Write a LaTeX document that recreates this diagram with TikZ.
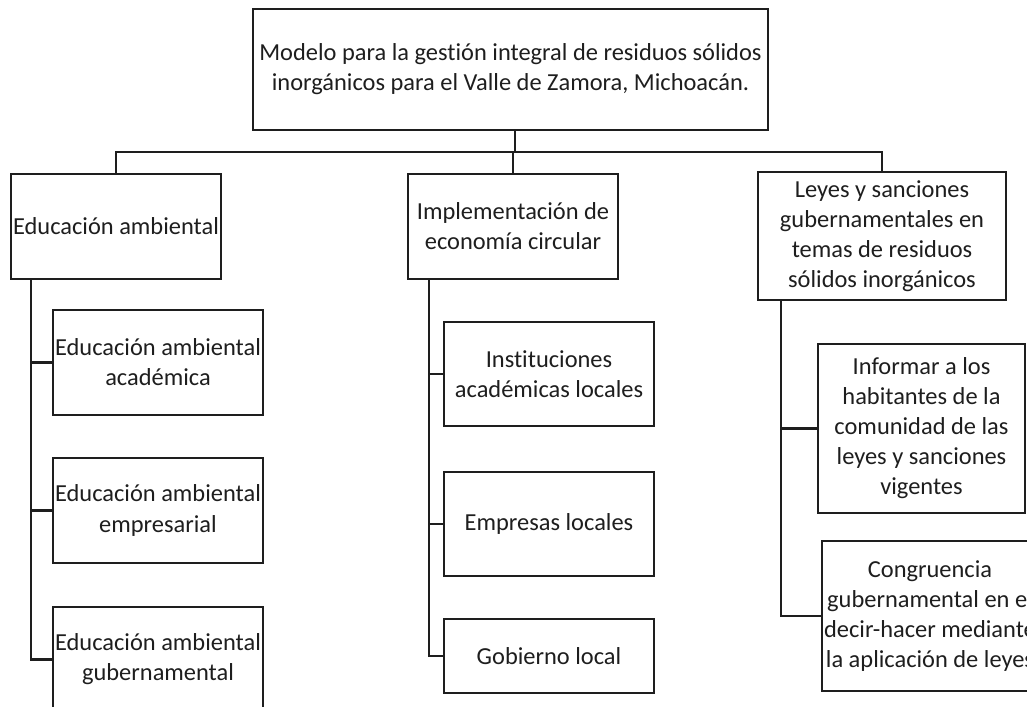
\documentclass[tikz,border=0pt]{standalone}
\usepackage{fontspec}
\setmainfont{Carlito}[Ligatures=NoCommon]
\definecolor{InkGray}{RGB}{30,30,30}

\begin{document}
\begin{tikzpicture}[x=0.2mm,y=-0.2mm,
        box/.style={draw=InkGray,line width=1.2pt,minimum width=42mm,minimum height=21mm,
                    inner sep=0pt,align=center,text=InkGray,
                    font=\fontsize{13.9}{17.1}\selectfont},
        link/.style={draw=InkGray,line width=1.2pt}]
        \clip (0,0) rectangle (1027,707);
        \fill[white] (0,0) rectangle (1027,707);

        % Main model
        \node[box,minimum width=103mm,minimum height=24.2mm] (model) at (510.5,69.5)
             {Modelo para la gestión integral de residuos sólidos\\inorgánicos para el Valle de Zamora, Michoacán.};

        % Three pillars
        \node[box] (edu)  at (116,226.5) {Educación ambiental};
        \node[box] (impl) at (513,226.5) {Implementación de\\economía circular};
        \node[box,minimum width=49.6mm,minimum height=25.6mm] (leyes) at (882,236)
             {Leyes y sanciones\\gubernamentales en\\temas de residuos\\sólidos inorgánicos};

        % Education branch
        \node[box] (edAca) at (158,362.5) {Educación ambiental\\académica};
        \node[box] (edEmp) at (158,510.5) {Educación ambiental\\empresarial};
        \node[box] (edGob) at (158,659.5) {Educación ambiental\\gubernamental};

        % Circular economy branch
        \node[box,minimum height=20.8mm] (ecInst) at (549,374) {Instituciones\\académicas locales};
        \node[box,minimum height=20.8mm] (ecEmp)  at (549,524) {Empresas locales};
        \node[box,minimum height=14.8mm] (ecGob)  at (549,656) {Gobierno local};

        % Laws branch
        \node[box,minimum width=41.4mm,minimum height=33.8mm] (lyInf) at (921.5,428.5)
             {Informar a los\\habitantes de la\\comunidad de las\\leyes y sanciones\\vigentes};
        \node[box,minimum width=43.2mm,minimum height=30mm] (lyCong) at (930,616)
             {Congruencia\\gubernamental en el\\decir-hacer mediante\\la aplicación de leyes};

        \coordinate (hub) at (515,152);
        \draw[link] (model.south -| hub) -- (hub);
        \foreach \n in {edu,impl,leyes} \draw[link] (hub) -| (\n.north);

        \foreach \c in {edAca,edEmp,edGob} \draw[link] ([xshift=4.2mm]edu.south west) |- (\c.west);
        \foreach \c in {ecInst,ecEmp,ecGob} \draw[link] ([xshift=4.4mm]impl.south west) |- (\c.west);
        \foreach \c in {lyInf,lyCong} \draw[link] ([xshift=4.8mm]leyes.south west) |- (\c.west);
      \end{tikzpicture}
\end{document}
